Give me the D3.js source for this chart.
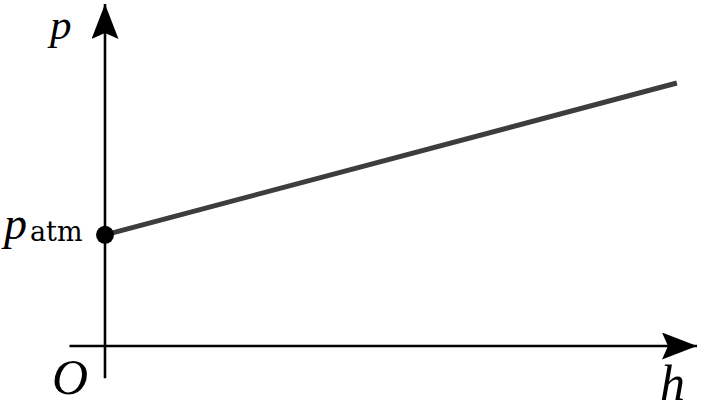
<!DOCTYPE html>
<html>
<head>
<meta charset="utf-8">
<script src="https://cdn.jsdelivr.net/npm/d3@7"></script>
<style>
  html, body { margin: 0; padding: 0; background: #fff; }
  svg { display: block; }
  .math { font-family: "Liberation Serif", "DejaVu Serif", serif; fill: #000; }
</style>
</head>
<body>
<div id="chart"></div>
<script>
(function () {
  "use strict";

  // p(h) = p_atm + ρgh : deux points suffisent pour la droite
  const hValues = [0, 9.66];
  const pValues = [3.25, 7.69];
  const pAtm = 3.25;

  // étendue des axes (unités arbitraires)
  const hAxis = [-0.6, 10];
  const pAxis = [-0.94, 10];

  const width = 703;
  const height = 412;

  const x = d3.scaleLinear().domain([0, 10]).range([105, 697]);
  const y = d3.scaleLinear().domain([0, 10]).range([346, 4]);

  const svg = d3
    .select("#chart")
    .append("svg")
    .attr("width", width)
    .attr("height", height)
    .attr("viewBox", `0 0 ${width} ${height}`);

  // pointe de flèche style "stealth" (avec encoche)
  const defs = svg.append("defs");
  defs
    .append("marker")
    .attr("id", "arrow")
    .attr("viewBox", "0 0 35 27")
    .attr("refX", 35)
    .attr("refY", 13.5)
    .attr("markerWidth", 35)
    .attr("markerHeight", 27)
    .attr("markerUnits", "userSpaceOnUse")
    .attr("orient", "auto")
    .append("path")
    .attr("d", "M0,0 L35,13.5 L0,27 L6,13.5 Z")
    .attr("fill", "#000");

  // axe h
  svg
    .append("line")
    .attr("x1", x(hAxis[0]))
    .attr("x2", x(hAxis[1]))
    .attr("y1", y(0))
    .attr("y2", y(0))
    .attr("stroke", "#000")
    .attr("stroke-width", 2.6)
    .attr("marker-end", "url(#arrow)");

  // axe p
  svg
    .append("line")
    .attr("x1", x(0))
    .attr("x2", x(0))
    .attr("y1", y(pAxis[0]))
    .attr("y2", y(pAxis[1]))
    .attr("stroke", "#000")
    .attr("stroke-width", 2.6)
    .attr("marker-end", "url(#arrow)");

  // la droite
  const line = d3
    .line()
    .x((d, i) => x(hValues[i]))
    .y((d) => y(d));

  svg
    .append("path")
    .datum(pValues)
    .attr("d", line)
    .attr("fill", "none")
    .attr("stroke", "#3d3d3d")
    .attr("stroke-width", 5);

  // point p_atm
  svg
    .append("circle")
    .attr("cx", x(0))
    .attr("cy", y(pAtm))
    .attr("r", 9)
    .attr("fill", "#000");

  // étiquettes — tailles réduites un peu en haut/bas pour rester dans le cadre
  svg
    .append("text")
    .attr("class", "math")
    .attr("x", 50)
    .attr("y", 39)
    .attr("font-size", 43)
    .attr("font-style", "italic")
    .text("p");

  const patm = svg
    .append("text")
    .attr("class", "math")
    .attr("x", 4)
    .attr("y", 239)
    .attr("font-size", 46);
  patm.append("tspan").attr("font-style", "italic").text("p");
  patm
    .append("tspan")
    .attr("font-family", "DejaVu Serif, serif")
    .attr("font-size", 27)
    .attr("dx", 3)
    .attr("dy", 2)
    .text("atm");

  svg
    .append("text")
    .attr("class", "math")
    .attr("x", 52)
    .attr("y", 394)
    .attr("font-size", 50)
    .attr("font-style", "italic")
    .text("O");

  svg
    .append("text")
    .attr("class", "math")
    .attr("x", 660)
    .attr("y", 400)
    .attr("font-size", 50)
    .attr("font-style", "italic")
    .text("h");
})();
</script>
</body>
</html>
